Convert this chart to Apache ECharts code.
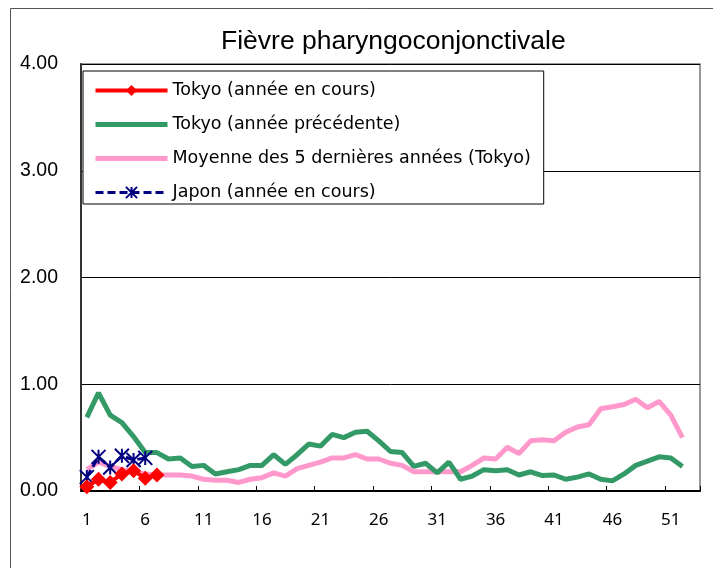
<!DOCTYPE html>
<html>
<head>
<meta charset="utf-8">
<script src="https://cdn.jsdelivr.net/npm/echarts@6/dist/echarts.min.js"></script>
<style>
html,body{margin:0;padding:0;background:#fff;}
#chart{width:713px;height:568px;}
</style>
</head>
<body>
<div id="chart"></div>
<script>
var weeks = ['1','2','3','4','5','6','7','8','9','10','11','12','13','14','15','16','17','18','19','20','21','22','23','24','25','26','27','28','29','30','31','32','33','34','35','36','37','38','39','40','41','42','43','44','45','46','47','48','49','50','51','52','53'];

var tokyoCurrent = [0.04, 0.11, 0.08, 0.16, 0.19, 0.12, 0.15];

var tokyoPrevious = [0.69, 0.92, 0.71, 0.64, 0.51, 0.36, 0.36, 0.30, 0.31, 0.23,
  0.24, 0.16, 0.18, 0.20, 0.24, 0.24, 0.34, 0.25, 0.34, 0.44,
  0.42, 0.53, 0.50, 0.55, 0.56, 0.47, 0.37, 0.36, 0.23, 0.26,
  0.17, 0.27, 0.11, 0.14, 0.20, 0.19, 0.20, 0.15, 0.18, 0.145,
  0.15, 0.11, 0.13, 0.16, 0.11, 0.095, 0.16, 0.24, 0.28, 0.32,
  0.31, 0.23];

var fiveYearAvg = [0.20, 0.27, 0.23, 0.20, 0.18, 0.16, 0.15, 0.15, 0.15, 0.14,
  0.11, 0.10, 0.10, 0.08, 0.11, 0.125, 0.17, 0.14, 0.21, 0.24,
  0.27, 0.31, 0.31, 0.34, 0.30, 0.30, 0.26, 0.24, 0.18, 0.18,
  0.18, 0.18, 0.18, 0.24, 0.31, 0.30, 0.41, 0.35, 0.47, 0.48,
  0.47, 0.55, 0.60, 0.62, 0.77, 0.79, 0.81, 0.86, 0.78, 0.84,
  0.71, 0.50];

var japanCurrent = [0.13, 0.32, 0.22, 0.33, 0.29, 0.31];

var seriesNames = ['Tokyo (année en cours)', 'Tokyo (année précédente)', 'Moyenne des 5 dernières années (Tokyo)', 'Japon (année en cours)'];
var titleText = 'Fièvre pharyngoconjonctivale';

var chart = echarts.init(document.getElementById('chart'), null, {renderer: 'canvas'});
var starPath = 'path://M0,0L10,10M10,0L0,10M5,0L5,10';

chart.setOption({
  animation: false,
  backgroundColor: '#fff',
  title: {
    text: titleText,
    left: 216,
    top: 23,
    textStyle: {fontFamily: 'Liberation Sans', fontSize: 26.5, fontWeight: 'normal', color: '#000'}
  },
  graphic: [{
    type: 'rect', silent: true, z: -10,
    shape: {x: 10.5, y: 8.5, width: 800, height: 700},
    style: {fill: 'none', stroke: '#555', lineWidth: 1}
  }],
  legend: {
    data: [
      {name: seriesNames[0], lineStyle: {width: 4}},
      {name: seriesNames[1], lineStyle: {width: 5}, itemStyle: {opacity: 0}},
      {name: seriesNames[2], lineStyle: {width: 5}, itemStyle: {opacity: 0}},
      {name: seriesNames[3], lineStyle: {width: 3}}
    ],
    orient: 'vertical',
    left: 83,
    top: 71,
    itemWidth: 72,
    itemHeight: 14,
    itemGap: 14,
    padding: [9.5, 13, 1.5, 10],
    borderColor: '#000',
    borderWidth: 1,
    backgroundColor: '#fff',
    textStyle: {fontFamily: 'DejaVu Sans', fontSize: 17.5, lineHeight: 20, color: '#000'}
  },
  grid: {
    left: 81, right: 13, top: 64, bottom: 77,
    show: true, borderColor: '#777', borderWidth: 1.5, backgroundColor: '#fff'
  },
  xAxis: {
    type: 'category',
    data: weeks,
    boundaryGap: true,
    axisLine: {lineStyle: {color: '#000', width: 2}},
    axisTick: {show: true, inside: true, length: 5, interval: 4, lineStyle: {color: '#000'}},
    axisLabel: {interval: 4, margin: 21, fontSize: 17, color: '#000', fontFamily: 'Noto Sans'},
    splitLine: {show: false}
  },
  yAxis: {
    type: 'value',
    min: 0, max: 4, interval: 1,
    axisLine: {show: true, lineStyle: {color: '#333', width: 2}},
    axisTick: {show: false},
    axisLabel: {formatter: function (v) { return v.toFixed(2); }, fontSize: 19.5, margin: 23, color: '#000', fontFamily: 'Liberation Sans'},
    splitLine: {lineStyle: {color: '#000', width: 1}}
  },
  series: [
    {
      name: seriesNames[0], type: 'line', data: tokyoCurrent, z: 6,
      symbol: 'diamond', symbolSize: 15, showSymbol: true, showAllSymbol: true,
      lineStyle: {color: '#FF0000', width: 4},
      itemStyle: {color: '#FF0000'}
    },
    {
      name: seriesNames[1], type: 'line', data: tokyoPrevious, z: 3,
      symbol: 'none',
      lineStyle: {color: '#339966', width: 5},
      itemStyle: {color: '#339966'}
    },
    {
      name: seriesNames[2], type: 'line', data: fiveYearAvg, z: 2,
      symbol: 'none',
      lineStyle: {color: '#FF99CC', width: 5},
      itemStyle: {color: '#FF99CC'}
    },
    {
      name: seriesNames[3], type: 'line', data: japanCurrent, z: 5,
      symbol: starPath, symbolSize: 14, showSymbol: true, showAllSymbol: true,
      lineStyle: {color: '#000080', width: 3, type: [8, 4]},
      itemStyle: {color: '#000080', borderColor: '#000080', borderWidth: 2}
    }
  ]
});
</script>
</body>
</html>
